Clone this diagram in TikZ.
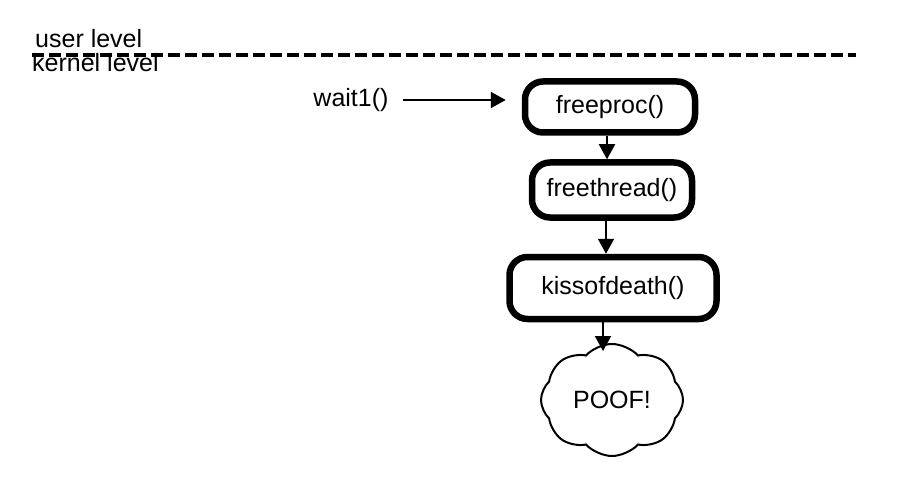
\documentclass[tikz,border=0pt]{standalone}
\usepackage{fontspec}
\setmainfont{Liberation Sans}
\usetikzlibrary{arrows.meta,shapes.symbols,positioning}

\begin{document}
\begin{tikzpicture}[
		x=1pt, y=-1pt,
		every node/.style={font=\fontsize{25}{30}\selectfont},
		procbox/.style={
			draw,
			rectangle,
			rounded corners=18pt,
			line width=6.5pt,
			align=center
		},
		arr/.style={
			line width=2pt,
			-{Triangle[length=15pt,width=16pt]}
		}
		]
		\useasboundingbox (0,0) rectangle (924,492);
		
		% Levels
		\node[anchor=base west, inner sep=0] (user) at (35,48) {user level};
		\node[anchor=base west, inner sep=0] (kernel) at (32,72) {kernel level};
		\coordinate (lineleft) at (32,55);
		\coordinate (lineright) at (856,55);
		\draw[line width=4.5pt, dash pattern=on 12pt off 5pt] (lineleft) -- (lineright);
		
		% System call
		\node[inner sep=0] (wait) at (351,100) {wait1()};
		
		% freeproc
		\node[
		procbox,
		minimum width=170pt,
		minimum height=51pt
		] (freeproc) at (610,107) {freeproc()};
		\coordinate (procin) at (wait.east -| freeproc.west);
		
		% freethread
		\node[
		procbox,
		minimum width=160pt,
		minimum height=55pt
		] (freethread) at (612,190) {freethread()};
		
		% kissofdeath
		\node[
		procbox,
		minimum width=207pt,
		minimum height=62pt
		] (kiss) at (613,288) {kissofdeath()};
		
		% Cloud
		\node[
		draw,
		cloud,
		cloud puffs=8,
		cloud puff arc=95,
		aspect=1.25,
		line width=2pt,
		minimum width=142pt,
		minimum height=112pt
		] (poof) at (612,400) {POOF!};
		\coordinate (poofin) at ([xshift=-9pt,yshift=-8pt]poof.north);
		
		% Arrows
		\draw[arr, shorten <=14pt, shorten >=16pt] (wait.east) -- (procin);
		
		\draw[arr] ([xshift=-3pt]freeproc.south) -- ([xshift=-5pt]freethread.north);
		
		\draw[arr] ([xshift=-6pt]freethread.south) -- ([xshift=-7pt]kiss.north);
		
		\draw[arr] ([xshift=-10pt]kiss.south) -- (poofin);
		
	\end{tikzpicture}
\end{document}
